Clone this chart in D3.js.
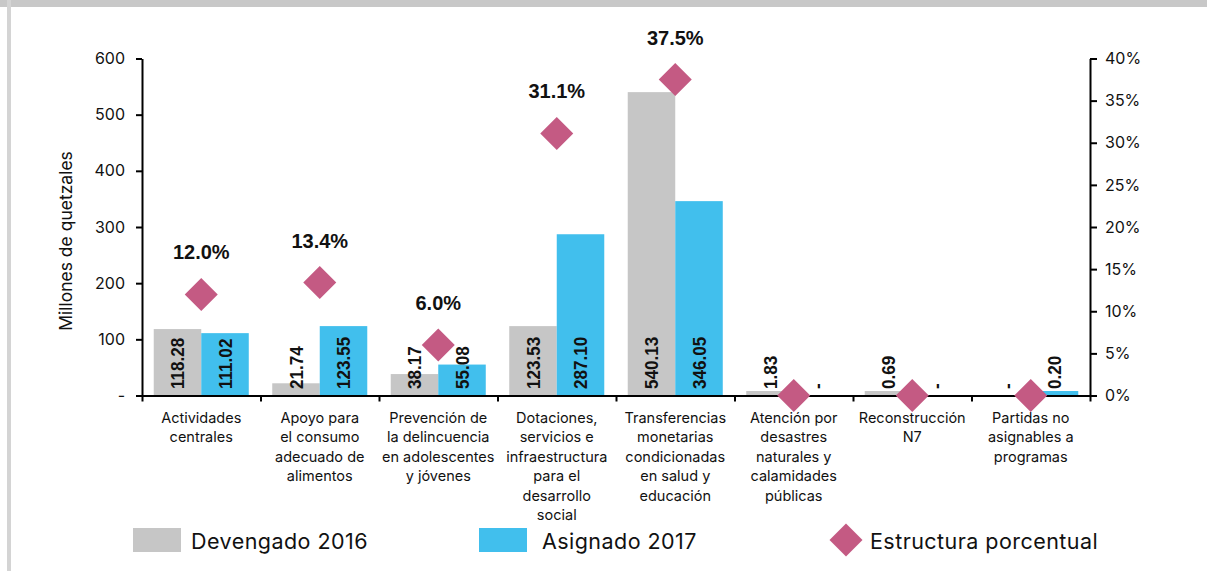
<!DOCTYPE html>
<html>
<head>
<meta charset="utf-8">
<script src="https://cdn.jsdelivr.net/npm/d3@7"></script>
<style>
  html, body { margin: 0; padding: 0; background: #ffffff; }
  svg { display: block; }
  text { font-family: Inter, "Liberation Sans", Arial, sans-serif; fill: #111; }
</style>
</head>
<body>
<script>
// Programas: gasto devengado 2016, asignado 2017 y estructura porcentual
const categories = [
  ["Actividades", "centrales"],
  ["Apoyo para", "el consumo", "adecuado de", "alimentos"],
  ["Prevención de", "la delincuencia", "en adolescentes", "y jóvenes"],
  ["Dotaciones,", "servicios e", "infraestructura", "para el", "desarrollo", "social"],
  ["Transferencias", "monetarias", "condicionadas", "en salud y", "educación"],
  ["Atención por", "desastres", "naturales y", "calamidades", "públicas"],
  ["Reconstrucción", "N7"],
  ["Partidas no", "asignables a", "programas"]
];
const devengado2016 = [118.28, 21.74, 38.17, 123.53, 540.13, 1.83, 0.69, 0];
const asignado2017  = [111.02, 123.55, 55.08, 287.10, 346.05, 0, 0, 0.20];
const estructura    = [12.0, 13.4, 6.0, 31.1, 37.5, 0.0, 0.0, 0.0];

const leftTicks  = [0, 100, 200, 300, 400, 500, 600];
const rightTicks = [0, 5, 10, 15, 20, 25, 30, 35, 40];
const seriesNames = ["Devengado 2016", "Asignado 2017"];
const legendLabels = ["Devengado 2016", "Asignado 2017", "Estructura porcentual"];

const colors = { dev: "#c6c6c6", asig: "#41bfed", pct: "#c45a83" };

const W = 1207, H = 571;
const plot = { left: 142, right: 1090, top: 58.5, bottom: 395.5 };

const svg = d3.select("body").append("svg")
  .attr("width", W).attr("height", H);

// page frame
svg.append("rect").attr("x", 0).attr("y", 0).attr("width", W).attr("height", 7).attr("fill", "#c8c8c8");
svg.append("rect").attr("x", 7).attr("y", 0).attr("width", 4).attr("height", H).attr("fill", "#d4d4d4");

// scales
const x = d3.scaleBand().domain(d3.range(categories.length))
  .range([plot.left, plot.right]).paddingInner(0).paddingOuter(0);
const xSub = d3.scaleBand().domain(seriesNames)
  .range([0, x.bandwidth()]).paddingInner(0).paddingOuter(0.247);
const y = d3.scaleLinear().domain([0, 600]).range([plot.bottom, plot.top]);
const yPct = d3.scaleLinear().domain([0, 40]).range([plot.bottom, plot.top]);
const xEdge = d3.scaleLinear().domain([0, categories.length]).range([plot.left, plot.right]);

// bars (non-zero values keep a minimum visible height above the axis line)
const rows = categories.map((c, i) => ({ i, dev: devengado2016[i], asig: asignado2017[i], pct: estructura[i] }));
const barData = rows.flatMap(r => [
  { i: r.i, s: seriesNames[0], v: r.dev, color: colors.dev },
  { i: r.i, s: seriesNames[1], v: r.asig, color: colors.asig }
]);
const barTop = d => d.v > 0 ? Math.min(y(d.v), y(0) - 4.5) : y(0);

svg.append("g").selectAll("rect").data(barData).join("rect")
  .attr("x", d => x(d.i) + xSub(d.s))
  .attr("y", barTop)
  .attr("width", xSub.bandwidth())
  .attr("height", d => y(0) - barTop(d))
  .attr("fill", d => d.color);

// axes
const axisStyle = g => {
  g.selectAll("path.domain").attr("stroke", "#000").attr("stroke-width", 2);
  g.selectAll(".tick line").attr("stroke", "#000").attr("stroke-width", 2);
  g.selectAll("text").attr("fill", "#111").style("font-family", "Inter, 'Liberation Sans', sans-serif");
};

svg.append("g").attr("transform", `translate(${plot.left},0)`)
  .call(d3.axisLeft(y).tickValues(leftTicks).tickSize(6).tickSizeOuter(0).tickPadding(11)
    .tickFormat(d => d === 0 ? "-" : d))
  .call(axisStyle)
  .call(g => g.selectAll("text").attr("font-size", 16));

svg.append("g").attr("transform", `translate(${plot.right},0)`)
  .call(d3.axisRight(yPct).tickValues(rightTicks).tickSize(7).tickSizeOuter(0).tickPadding(8)
    .tickFormat(d => d + "%"))
  .call(axisStyle)
  .call(g => g.selectAll("text").attr("font-size", 16));

svg.append("g").attr("transform", `translate(0,${plot.bottom})`)
  .call(d3.axisBottom(xEdge).tickValues(d3.range(categories.length + 1)).tickSize(6).tickSizeOuter(0)
    .tickFormat(""))
  .call(axisStyle);

// y title
svg.append("text")
  .attr("transform", `translate(72,241) rotate(-90)`)
  .attr("text-anchor", "middle")
  .attr("font-size", 17.5)
  .text("Millones de quetzales");

// value labels on bars
svg.append("g").selectAll("text").data(barData).join("text")
  .attr("transform", d => `translate(${x(d.i) + xSub(d.s) + xSub.bandwidth() / 2},389) rotate(-90) scale(0.9,1)`)
  .attr("dy", "0.36em")
  .attr("text-anchor", "start")
  .style("font-family", "'Liberation Sans', Arial, sans-serif")
  .attr("font-weight", "bold")
  .attr("font-size", 19)
  .text(d => d.v === 0 ? "-" : d.v.toFixed(2));

// percent structure diamonds
const diamond = d3.symbol().type(d3.symbolSquare).size(545);
svg.append("g").selectAll("path").data(rows).join("path")
  .attr("d", diamond)
  .attr("transform", d => `translate(${x(d.i) + x.bandwidth() / 2},${yPct(d.pct)}) rotate(45)`)
  .attr("fill", colors.pct);

svg.append("g").selectAll("text").data(rows.filter(r => r.pct > 0)).join("text")
  .attr("x", d => x(d.i) + x.bandwidth() / 2)
  .attr("y", d => yPct(d.pct) - 35)
  .attr("text-anchor", "middle")
  .style("font-family", "'Liberation Sans', Arial, sans-serif")
  .attr("font-weight", "bold")
  .attr("font-size", 20)
  .text(d => d.pct.toFixed(1) + "%");

// category labels
const catText = svg.append("g").selectAll("text").data(categories).join("text")
  .attr("x", (d, i) => x(i) + x.bandwidth() / 2)
  .attr("y", 423)
  .attr("text-anchor", "middle")
  .attr("font-size", 14.5);
catText.selectAll("tspan").data(d => d).join("tspan")
  .attr("x", function () { return d3.select(this.parentNode).attr("x"); })
  .attr("dy", (d, j) => j === 0 ? 0 : 19.4)
  .text(d => d);

// legend
const legend = svg.append("g");
const legendItems = [
  { label: legendLabels[0], kind: "rect", color: colors.dev, x: 133, tx: 191 },
  { label: legendLabels[1], kind: "rect", color: colors.asig, x: 479, tx: 542 },
  { label: legendLabels[2], kind: "diamond", color: colors.pct, x: 846, tx: 870 }
];
legendItems.forEach(it => {
  if (it.kind === "rect") {
    legend.append("rect").attr("x", it.x).attr("y", 528).attr("width", 48).attr("height", 24).attr("fill", it.color);
  } else {
    legend.append("path").attr("d", diamond).attr("transform", `translate(${it.x},540) rotate(45)`).attr("fill", it.color);
  }
  legend.append("text").attr("x", it.tx).attr("y", 548.5)
    .attr("font-size", 21.5).attr("letter-spacing", 0.45).text(it.label);
});
</script>
</body>
</html>
